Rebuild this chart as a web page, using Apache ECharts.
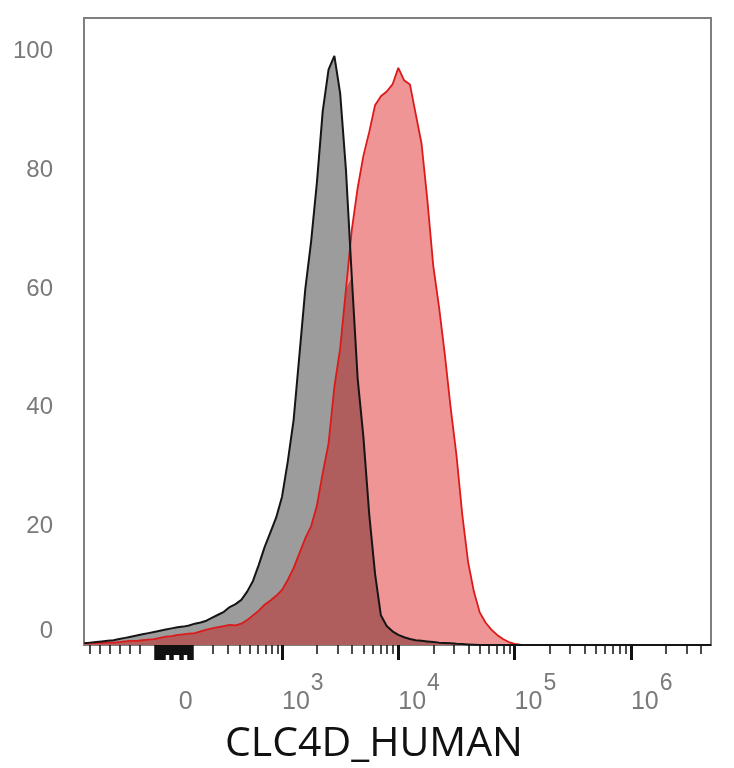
<!DOCTYPE html>
<html><head><meta charset="utf-8">
<script src="https://cdn.jsdelivr.net/npm/echarts@6/dist/echarts.min.js"></script>
<style>html,body{margin:0;padding:0;background:#fff}#c{width:734px;height:768px}</style>
</head><body><div id="c"></div>
<script>
// bin positions on the display (biexponential) axis, in decade units
const binPos = [1.30,1.35,1.40,1.45,1.50,1.55,1.60,1.65,1.70,1.75,1.80,1.85,1.90,1.95,2.00,2.05,2.10,2.15,2.20,2.25,
  2.30,2.35,2.40,2.45,2.50,2.55,2.60,2.65,2.70,2.75,2.80,2.85,2.90,2.95,3.00,3.05,3.10,3.15,3.20,3.25,
  3.30,3.35,3.40,3.45,3.50,3.55,3.60,3.65,3.70,3.75,3.80,3.85,3.90,3.95,4.00,4.05,4.10,4.15,4.20,4.25,
  4.30,4.35,4.40,4.45,4.50,4.55,4.60,4.65,4.70,4.75,4.80,4.85,4.90,4.95,5.00,5.05,5.10,6.69];
// isotype control (grey)
const controlCounts = [0.3,0.4,0.5,0.6,0.7,0.8,1.0,1.2,1.4,1.6,1.8,2.0,2.2,2.4,2.6,2.8,3.0,3.1,3.3,3.6,
  3.8,4.1,4.6,5.1,5.6,6.4,6.9,7.6,9.0,10.8,13.5,16.5,19.0,21.5,25,31,38,49,60,68,
  78,90,97,99.3,93,80,62,45,35,22,12,5,3.2,2.3,1.7,1.3,1.0,0.8,0.7,0.6,
  0.5,0.4,0.35,0.3,0.2,0.15,0.1,0.05,0,0,0,0,0,0,0,0,0,0];
// CLC4D_HUMAN stained (red)
const stainedCounts = [0.3,0.3,0.3,0.35,0.4,0.4,0.5,0.6,0.7,0.7,0.8,0.9,1.0,1.2,1.4,1.5,1.7,1.8,1.9,2.0,
  2.3,2.6,2.8,3.0,3.2,3.4,3.3,3.6,4.2,5.0,5.8,6.8,7.5,8.3,9.3,11,13,15.5,18,20,
  23.5,29,34,43.5,50,60,70,77,82.5,86.5,91,92.5,93.3,94.5,97.3,95.2,94.5,89.5,84.5,75,
  64,57,49,40,32,22,14,9,5.5,3.8,2.6,1.7,1.0,0.5,0.2,0.05,0,0];

const yTickLabels = [0,20,40,60,80,100];
// x labels: display position and text (exponent, or null for "0")
const zeroPos = 2.0607;
const xLabelPos = [zeroPos, 3, 4, 5, 6];
const xLabelExp = [null, 3, 4, 5, 6];
const minorMultipliers = [2,3,4,5,6,7,8,9];
const majorDecades = [3,4,5,6];
const linearTicksBelow = [200,300,400,500,600,700,800,900];
const negTickPos = [1.35,1.435,1.52,1.605,1.69,1.775];
const zeroClusterRange = [1.908, 2.235];
const zeroProngs = [[1.908,1.994],[2.037,2.063],[2.123,2.149],[2.192,2.235]];

const X_MIN = 1.297, X_MAX = 6.689, Y_MAX = 105.7;
const C = 230;
function T(v){ return Math.log10(C/2) + Math.asinh(v/C)/Math.LN10; }

const minorTicks = [];
linearTicksBelow.forEach(v => minorTicks.push(T(v)));
negTickPos.forEach(p => minorTicks.push(p));
majorDecades.forEach(k => minorMultipliers.forEach(m => { const p = k + Math.log10(m); if (p < X_MAX) minorTicks.push(p); }));
const clusterTicks = [];
for (let p = zeroClusterRange[0]; p <= zeroClusterRange[1] + 1e-9; p += 0.008) clusterTicks.push(p);
const prongTicks = [];
zeroProngs.forEach(([a,b]) => { for (let p = a; p <= b + 1e-9; p += 0.008) prongTicks.push(p); });

const ctrl = binPos.map((x,i) => [x, controlCounts[i]]);
const stain = binPos.map((x,i) => [x, stainedCounts[i]]);
const overlap = binPos.map((x,i) => [x, Math.min(controlCounts[i], stainedCounts[i])]);

function tickAxis(values, len, width){
  return { type:'value', gridIndex:0, position:'bottom', min:X_MIN, max:X_MAX,
    axisLine:{show:false}, splitLine:{show:false}, axisLabel:{show:false},
    axisTick:{show:true, customValues: values, length: len, lineStyle:{color:'#111', width: width}} };
}

const chart = echarts.init(document.getElementById('c'), null, {renderer:'canvas'});
chart.setOption({
  animation:false,
  backgroundColor:'#fff',
  title:{ text:'CLC4D_HUMAN', left:225, top:724, padding:0,
    textStyle:{ fontFamily:'Open Sans', fontSize:41, fontWeight:'normal', color:'#111' } },
  grid:{ left:84, right:23, top:18, bottom:123, show:true, borderColor:'#7f7f7f', borderWidth:2, backgroundColor:'#fff' },
  xAxis:[
    { type:'value', min:X_MIN, max:X_MAX, position:'bottom',
      axisLine:{show:false}, splitLine:{show:false}, axisTick:{show:false},
      axisLabel:{ show:true, customValues:xLabelPos, align:'left', margin:27,
        formatter: v => { const i = xLabelPos.findIndex(p => Math.abs(p - v) < 1e-6);
          const e = i >= 0 ? xLabelExp[i] : null;
          return e === null ? '{z|0}{s| }' : '{b|10}{s|' + e + '}'; },
        rich:{ b:{ fontFamily:'Liberation Sans', fontSize:25, color:'#7a7a7a' },
               z:{ fontFamily:'Liberation Sans', fontSize:25, color:'#7a7a7a', padding:[0,0,0,6] },
               s:{ fontFamily:'Liberation Sans', fontSize:23, color:'#7a7a7a', padding:[0,0,38,1] } } } },
    tickAxis(minorTicks, 9, 1.5),
    tickAxis(majorDecades, 15, 3),
    tickAxis(clusterTicks, 10, 1.5),
    tickAxis(prongTicks, 15, 1.5)
  ],
  yAxis:{ type:'value', min:0, max:Y_MAX,
    axisLine:{show:false}, axisTick:{show:false}, splitLine:{show:false},
    axisLabel:{ customValues:yTickLabels, margin:31, fontFamily:'Liberation Sans', fontSize:24, color:'#7a7a7a',
      formatter: v => v === 0 ? '{z|0}' : String(v),
      rich:{ z:{ fontFamily:'Liberation Sans', fontSize:24, color:'#7a7a7a', padding:[0,0,28,0] } } } },
  series:[
    { type:'line', data:ctrl, symbol:'none', lineStyle:{opacity:0}, areaStyle:{color:'#9c9c9c', opacity:1}, z:1 },
    { type:'line', data:stain, symbol:'none', lineStyle:{opacity:0}, areaStyle:{color:'#ef9595', opacity:1}, z:2 },
    { type:'line', data:overlap, symbol:'none', lineStyle:{opacity:0}, areaStyle:{color:'#b05d5d', opacity:1}, z:3 },
    { type:'line', data:stain, symbol:'none', lineStyle:{color:'#dc1a1a', width:1.8}, z:4 },
    { type:'line', data:ctrl, symbol:'none', lineStyle:{color:'#151515', width:2}, z:5 }
  ]
});
</script></body></html>
